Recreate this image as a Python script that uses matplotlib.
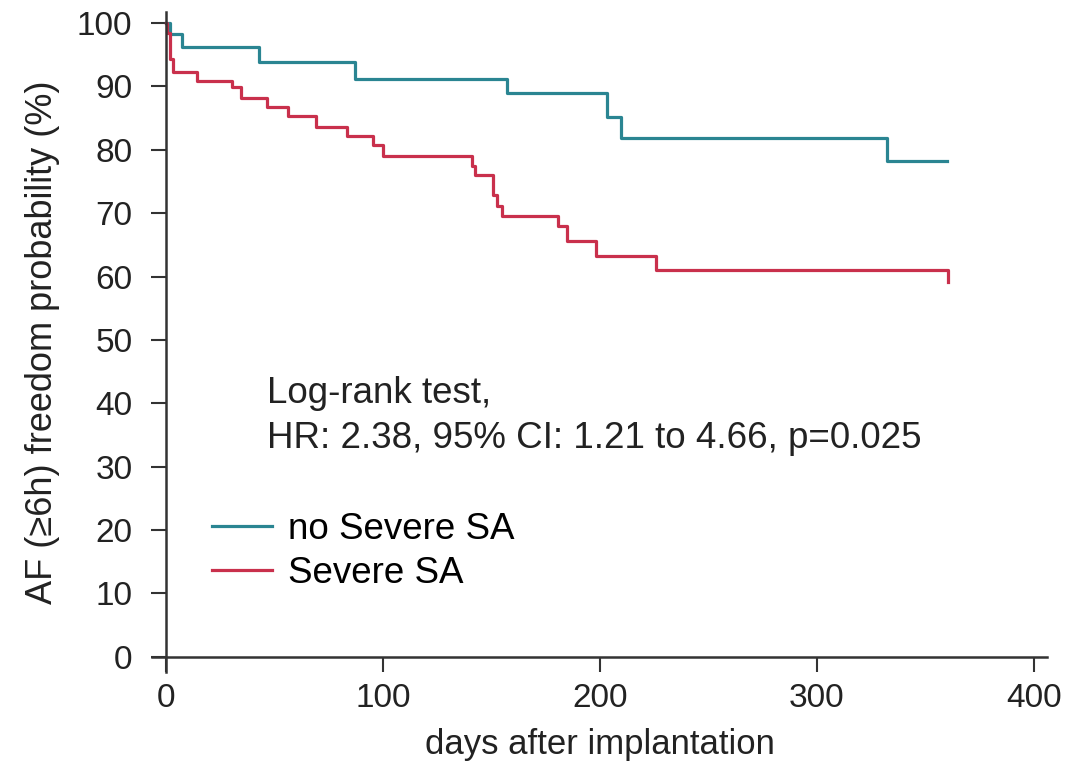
import numpy as np
import matplotlib
matplotlib.use("Agg")
from matplotlib import pyplot as plt

# data (days, survival %)
days_no_severe = [0, 2, 7.6, 43.1, 87.2, 157.1, 203.2, 209.7, 332.4, 360]
surv_no_severe = [100, 98.2, 96.2, 93.8, 91.1, 88.9, 85.1, 81.8, 78.3, 78.3]

days_severe = [0, 0.6, 2, 3.5, 14.3, 30.4, 34.5, 46.5, 56.5, 69.2, 83.4, 95.6, 100,
               141, 142.5, 150.9, 152.5, 154.8, 180.9, 184.7, 198.1, 225.9, 360.5]
surv_severe = [100, 98.4, 94.4, 92.3, 90.9, 89.9, 88.2, 86.7, 85.3, 83.6, 82.1, 80.7, 79.1,
               77.4, 76.0, 72.8, 71.2, 69.6, 68.0, 65.6, 63.3, 61.0, 59.1]

labels = ['no Severe SA', 'Severe SA']
colors = ['#2a8592', '#c9304c']
xticks = [0, 100, 200, 300, 400]
yticks = list(range(0, 101, 10))

plt.rcParams['font.family'] = ['Liberation Sans', 'DejaVu Sans']
plt.rcParams['font.size'] = 26.5

fig = plt.figure(figsize=(10.86, 7.68), dpi=100)
ax = fig.add_axes([0.14, 0.125, 0.824, 0.859])

ax.step(days_no_severe, surv_no_severe, where='post', color=colors[0], lw=2.3, label=labels[0])
ax.step(days_severe, surv_severe, where='post', color=colors[1], lw=2.3, label=labels[1])

ax.set_xlim(-6.3, 406)
ax.set_ylim(-2.4, 101.7)
ax.spines['top'].set_visible(False)
ax.spines['right'].set_visible(False)
ax.spines['left'].set_position(('data', 0))
ax.spines['bottom'].set_position(('data', 0))
for s in ['left', 'bottom']:
    ax.spines[s].set_linewidth(1.8)
    ax.spines[s].set_color('#333333')
ax.set_xticks(xticks)
ax.set_yticks(yticks)
ax.tick_params(length=11, width=1.5, color='#333333', labelcolor='#222222', labelsize=24)
ax.tick_params(axis='x', pad=8)
ax.tick_params(axis='y', pad=13)

ax.set_xlabel('days after implantation', labelpad=10, color='#222222', fontsize=25)
ax.set_ylabel('AF (\u22656h) freedom probability (%)', labelpad=12, color='#222222', fontsize=26)

ax.text(46.5, 41.5, 'Log-rank test,', va='center', ha='left', color='#222222')
ax.text(46.5, 34.5, 'HR: 2.38, 95% CI: 1.21 to 4.66, p=0.025', va='center', ha='left', color='#222222')

ax.legend(loc='upper left', bbox_to_anchor=(0.0667, 0.2424), frameon=False,
          borderpad=0, borderaxespad=0, handlelength=1.65, handletextpad=0.42,
          labelspacing=0.24)

plt.savefig('out.png', dpi=100)
